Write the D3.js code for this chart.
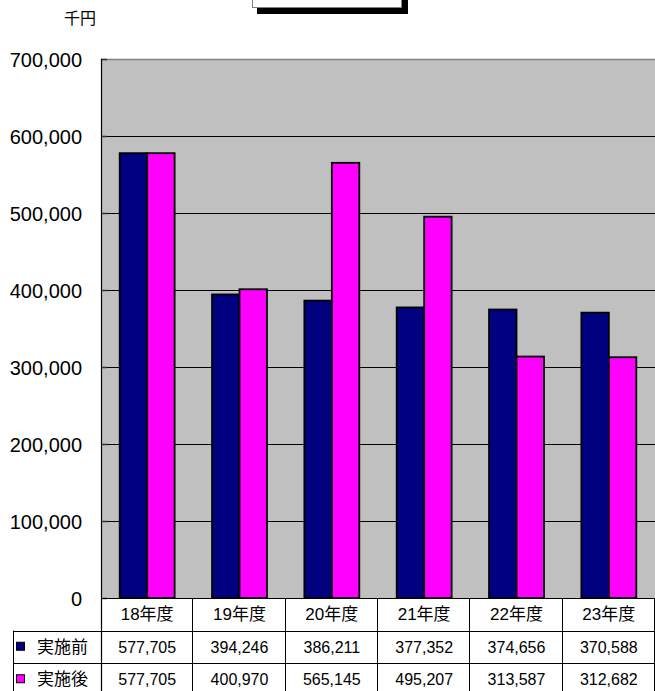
<!DOCTYPE html>
<html>
<head>
<meta charset="utf-8">
<script src="https://cdn.jsdelivr.net/npm/d3@7"></script>
<style>
  body { margin: 0; background: #fff; }
  svg text { font-family: "Liberation Sans", Arial, "Noto Sans CJK JP", sans-serif; fill: #000; }
</style>
</head>
<body>
<div id="chart"></div>
<script>
// chart values
var categories = ['18年度', '19年度', '20年度', '21年度', '22年度', '23年度'];
var seriesNames = ['実施前', '実施後'];
var seriesColors = ['#000080', '#ff00ff'];
var before = [577705, 394246, 386211, 377352, 374656, 370588];
var after = [577705, 400970, 565145, 495207, 313587, 312682];
var yTicks = [0, 100000, 200000, 300000, 400000, 500000, 600000, 700000];
var unitLabel = '千円';

var width = 655;
var height = 691;
var plot = { left: 101, right: 655, top: 59, bottom: 598 };
var rowH = 32.5;

var svg = d3.select('#chart')
  .append('svg')
  .attr('width', width)
  .attr('height', height);

// cut-off title box at the top
svg.append('rect')
  .attr('x', 257).attr('y', -20).attr('width', 151).attr('height', 34)
  .attr('fill', '#000');
svg.append('rect')
  .attr('x', 252.5).attr('y', -20).attr('width', 149).attr('height', 27.5)
  .attr('fill', '#fff').attr('stroke', '#808080').attr('stroke-width', 1);

svg.append('text')
  .attr('x', 80).attr('y', 18)
  .attr('text-anchor', 'middle').attr('dominant-baseline', 'central')
  .style('font-size', '16px')
  .text(unitLabel);

var y = d3.scaleLinear().domain([0, 700000]).range([plot.bottom, plot.top]);
var x = d3.scaleBand().domain(categories).range([plot.left, plot.right]);
var x1 = d3.scaleBand().domain(seriesNames).range([18.7, x.bandwidth() - 18.7]);

// plot background
svg.append('rect')
  .attr('x', plot.left).attr('y', plot.top)
  .attr('width', plot.right - plot.left).attr('height', plot.bottom - plot.top)
  .attr('fill', '#c0c0c0');

// gridlines
svg.append('g')
  .selectAll('line')
  .data(yTicks.filter(d => d > 0 && d < 700000))
  .enter().append('line')
    .attr('x1', plot.left).attr('x2', plot.right)
    .attr('y1', d => Math.round(y(d)) + 0.5).attr('y2', d => Math.round(y(d)) + 0.5)
    .attr('stroke', '#000').attr('stroke-width', 1);

svg.append('line')
  .attr('x1', plot.left).attr('x2', plot.right)
  .attr('y1', plot.top + 0.5).attr('y2', plot.top + 0.5)
  .attr('stroke', '#808080').attr('stroke-width', 1.5);

// y axis labels
var yAxis = d3.axisLeft(y)
  .tickValues(yTicks)
  .tickSize(0)
  .tickPadding(19)
  .tickFormat(d3.format(','));
var yg = svg.append('g')
  .attr('transform', 'translate(' + plot.left + ',0)')
  .call(yAxis);
yg.select('.domain').remove();
yg.selectAll('text').style('font-size', '20px').attr('dy', '0.36em');

// small inner ticks
svg.append('g')
  .selectAll('line')
  .data(yTicks)
  .enter().append('line')
    .attr('x1', plot.left).attr('x2', plot.left + 6)
    .attr('y1', d => Math.round(y(d)) + 0.5).attr('y2', d => Math.round(y(d)) + 0.5)
    .attr('stroke', '#333').attr('stroke-width', 1.5);

// bars
var values = [before, after];
var groups = svg.append('g')
  .selectAll('g')
  .data(categories)
  .enter().append('g')
    .attr('transform', d => 'translate(' + x(d) + ',0)');

groups.selectAll('rect')
  .data((d, i) => seriesNames.map((s, j) => ({ s: s, j: j, v: values[j][i] })))
  .enter().append('rect')
    .attr('x', d => x1(d.s))
    .attr('y', d => y(d.v))
    .attr('width', x1.bandwidth())
    .attr('height', d => y(0) - y(d.v))
    .attr('fill', d => seriesColors[d.j])
    .attr('stroke', '#000')
    .attr('stroke-width', 1.8);

// left axis line
svg.append('line')
  .attr('x1', plot.left + 0.5).attr('x2', plot.left + 0.5)
  .attr('y1', plot.top).attr('y2', height)
  .attr('stroke', '#000').attr('stroke-width', 1.2);

// data table
var table = svg.append('g');
var tableLeft = 13;
var rowTop = [plot.bottom, plot.bottom + rowH, plot.bottom + rowH * 2];

table.append('line')
  .attr('x1', plot.left).attr('x2', plot.right)
  .attr('y1', plot.bottom + 0.5).attr('y2', plot.bottom + 0.5)
  .attr('stroke', '#000');

[rowTop[1], rowTop[2]].forEach(function(yy) {
  table.append('line')
    .attr('x1', tableLeft).attr('x2', plot.right)
    .attr('y1', Math.round(yy) + 0.5).attr('y2', Math.round(yy) + 0.5)
    .attr('stroke', '#000');
});

table.append('line')
  .attr('x1', tableLeft + 0.5).attr('x2', tableLeft + 0.5)
  .attr('y1', rowTop[1]).attr('y2', height)
  .attr('stroke', '#000');

table.selectAll('line.col')
  .data(categories)
  .enter().append('line')
    .attr('class', 'col')
    .attr('x1', d => Math.round(x(d) + x.bandwidth()) - 0.5)
    .attr('x2', d => Math.round(x(d) + x.bandwidth()) - 0.5)
    .attr('y1', plot.bottom).attr('y2', height)
    .attr('stroke', '#000');

table.selectAll('text.cat')
  .data(categories)
  .enter().append('text')
    .attr('class', 'cat')
    .attr('x', d => x(d) + x.bandwidth() / 2)
    .attr('y', rowTop[0] + rowH / 2)
    .attr('text-anchor', 'middle').attr('dy', '0.36em')
    .style('font-size', '17px')
    .text(d => d);

var fmt = d3.format(',');
seriesNames.forEach(function(s, j) {
  var cy = rowTop[j + 1] + rowH / 2;
  table.append('rect')
    .attr('x', 16.5).attr('y', cy - 4.5).attr('width', 8).attr('height', 8)
    .attr('fill', seriesColors[j]).attr('stroke', '#000').attr('stroke-width', 1);
  table.append('text')
    .attr('x', 37).attr('y', cy)
    .attr('dy', '0.36em')
    .style('font-size', '17px')
    .text(s);
  table.selectAll('text.v' + j)
    .data(values[j])
    .enter().append('text')
      .attr('class', 'v' + j)
      .attr('x', (d, i) => x(categories[i]) + x.bandwidth() / 2)
      .attr('y', cy)
      .attr('text-anchor', 'middle').attr('dy', '0.36em')
      .style('font-size', '16px')
      .text(d => fmt(d));
});
</script>
</body>
</html>
